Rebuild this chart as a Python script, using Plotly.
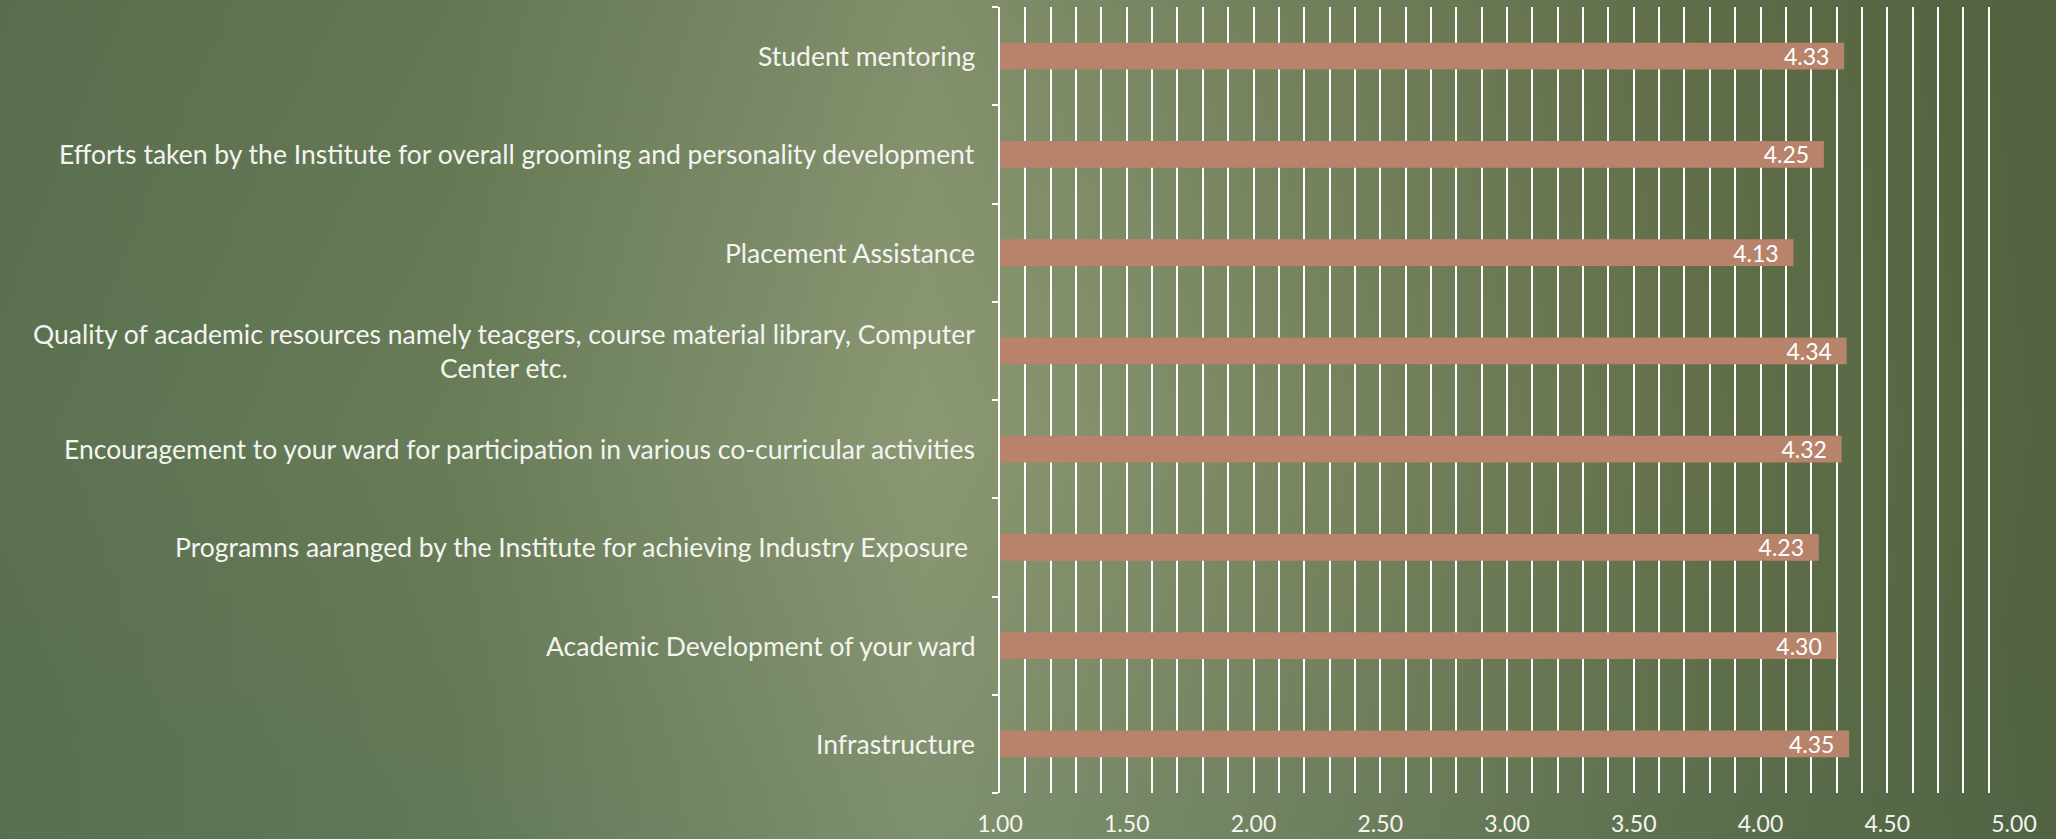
import base64
import plotly.graph_objects as go

categories = [
    "Infrastructure",
    "Academic Development of your ward",
    "Programns aaranged by the Institute for achieving Industry Exposure ",
    "Encouragement to your ward for participation in various co-curricular activities",
    "Quality of academic resources namely teacgers, course material library, Computer<br>Center etc.",
    "Placement Assistance",
    "Efforts taken by the Institute for overall grooming and personality development",
    "Student mentoring",
]
values = [4.35, 4.30, 4.23, 4.32, 4.34, 4.13, 4.25, 4.33]
x_tickvals = [1.0, 1.5, 2.0, 2.5, 3.0, 3.5, 4.0, 4.5, 5.0]

W, H = 2056, 839
L, R, T, B = 1000, 42, 7, 46
pw, ph = W - L - R, H - T - B

FONT = "Lato"
WHITE = "#ffffff"
BAR = "#b8836b"

svg = f"""<svg xmlns='http://www.w3.org/2000/svg' width='{W}' height='{H}' viewBox='0 0 {W} {H}' preserveAspectRatio='none'>
<defs>
<linearGradient id='g' x1='0' y1='0' x2='1' y2='0'>
<stop offset='0' stop-color='#5b7150'/>
<stop offset='0.22' stop-color='#687c58'/>
<stop offset='0.45' stop-color='#8b9874'/>
<stop offset='0.62' stop-color='#7a8763'/>
<stop offset='0.82' stop-color='#62714c'/>
<stop offset='1' stop-color='#53623f'/>
</linearGradient>
<linearGradient id='v' x1='0' y1='0' x2='0' y2='1'>
<stop offset='0' stop-color='#4c5a38' stop-opacity='0.15'/>
<stop offset='0.5' stop-color='#4c5a38' stop-opacity='0'/>
<stop offset='1' stop-color='#3f6a55' stop-opacity='0.18'/>
</linearGradient>
</defs>
<rect width='{W}' height='{H}' fill='url(#g)'/>
<rect width='{W}' height='{H}' fill='url(#v)'/>
</svg>"""
bg_src = "data:image/svg+xml;base64," + base64.b64encode(svg.encode()).decode()

fig = go.Figure()
fig.add_trace(go.Bar(
    y=categories,
    x=values,
    orientation="h",
    marker=dict(color=BAR, line=dict(width=0)),
    text=[f"{v:.2f}\u00a0\u00a0" for v in values],
    textposition="inside",
    insidetextanchor="end",
    constraintext="none",
    textfont=dict(family=FONT, size=23, color=WHITE),
    cliponaxis=True,
    hoverinfo="x+y",
))

for c in categories:
    fig.add_annotation(
        xref="paper", yref="y", x=-(L - 977) / pw, y=c,
        text=c, showarrow=False, xanchor="right", yanchor="middle",
        align="center", font=dict(family=FONT, size=26.5, color="#f4f4f0"),
    )

fig.add_layout_image(dict(
    source=bg_src, xref="paper", yref="paper",
    x=-L / pw, y=1 + T / ph, sizex=W / pw, sizey=(H + 20) / ph,
    xanchor="left", yanchor="top", sizing="stretch", layer="below",
))

fig.update_layout(
    autosize=True,
    margin=dict(l=L, r=R, t=T, b=B, pad=0, autoexpand=False),
    paper_bgcolor="#5e6e4e",
    plot_bgcolor="rgba(0,0,0,0)",
    showlegend=False,
    bargap=0.73,
    font=dict(family=FONT, color=WHITE),
    xaxis=dict(
        range=[1, 5], tickvals=x_tickvals, tickformat=".2f",
        showgrid=True, gridcolor=WHITE, gridwidth=2,
        minor=dict(dtick=0.1, showgrid=True, gridcolor=WHITE, gridwidth=2),
        zeroline=False, showline=False, ticks="",
        tickfont=dict(family=FONT, size=23, color="#f4f4f0"),
        ticklabelstandoff=15, automargin=False,
    ),
    yaxis=dict(
        type="category", showticklabels=False, tickson="boundaries",
        ticks="outside", ticklen=6, tickwidth=2, tickcolor=WHITE,
        showline=True, linecolor=WHITE, linewidth=2, showgrid=False,
        zeroline=False, automargin=False,
    ),
)

fig.write_html(
    "out.html",
    config={"displayModeBar": False, "responsive": True},
    default_width="100vw",
    default_height="100vh",
    post_script=(
        "document.body.style.margin='0';document.body.style.overflow='hidden';"
        "document.documentElement.style.overflow='hidden';"
        "document.body.style.background='#5e6e4e';"
        "var gd=document.getElementById('{plot_id}');"
        "gd.style.width='100vw';gd.style.height='100vh';"
        "Plotly.Plots.resize(gd);"
    ),
)
